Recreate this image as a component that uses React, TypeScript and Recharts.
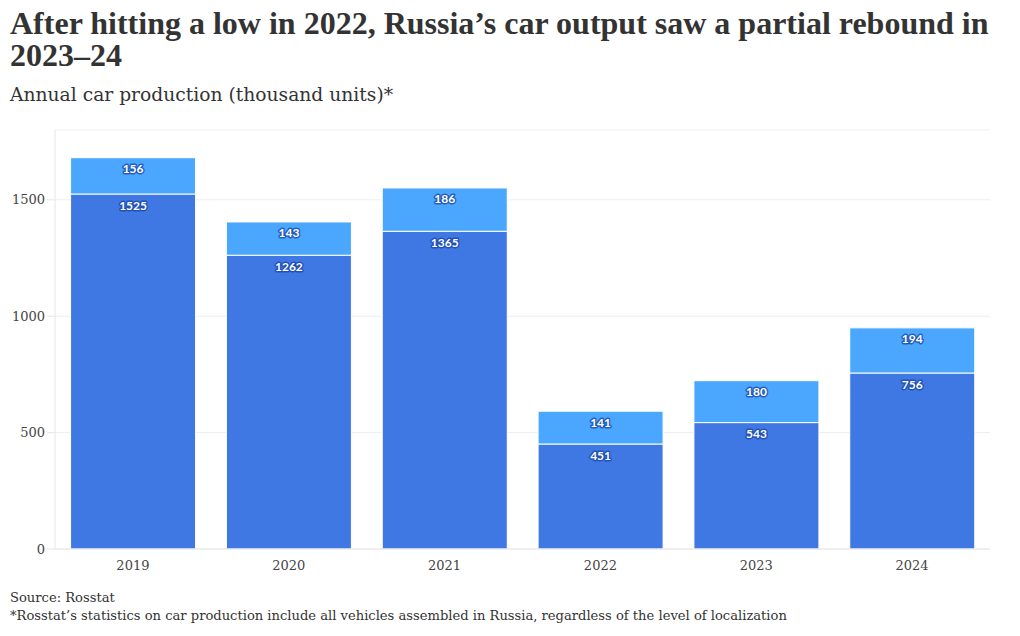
import { BarChart, Bar, XAxis, YAxis, CartesianGrid, LabelList } from "recharts";

const years = ["2019", "2020", "2021", "2022", "2023", "2024"];
const localized = [1525, 1262, 1365, 451, 543, 756];
const extra = [156, 143, 186, 141, 180, 194];
const yTicks = [0, 500, 1000, 1500];

const data = years.map((year, i) => ({ year, base: localized[i], top: extra[i] }));

const serif = "'DejaVu Serif', 'Liberation Serif', serif";

// white number with a soft blue halo, placed just inside the top of the segment
function SegLabel(props: any) {
  const { x, y, width, value } = props;
  return (
    <text
      x={x + width / 2}
      y={y + 11}
      textAnchor="middle"
      dominantBaseline="central"
      fontFamily="Lato, 'Noto Sans', sans-serif"
      fontWeight={700}
      fontSize={12}
      fill="#fff"
      stroke="rgba(25,70,170,0.75)"
      strokeWidth={3}
      strokeLinejoin="round"
      paintOrder="stroke"
    >
      {value}
    </text>
  );
}

export default function App() {
  return (
    <div
      style={{
        position: "absolute",
        left: 0,
        top: 0,
        width: 1020,
        height: 636,
        background: "#fff",
        fontFamily: serif,
        color: "#333",
      }}
    >
      <div
        style={{
          position: "absolute",
          left: 10,
          top: 7,
          width: 1000,
          fontSize: 32,
          fontWeight: 700,
          lineHeight: "32px",
          color: "#333",
          fontFamily: "'Liberation Serif', serif",
        }}
      >
        After hitting a low in 2022, Russia’s car output saw a partial rebound in 2023–24
      </div>
      <div
        style={{
          position: "absolute",
          left: 10,
          top: 84,
          fontSize: 18.7,
          color: "#333",
          fontFamily: serif,
        }}
      >
        Annual car production (thousand units)*
      </div>

      <div style={{ position: "absolute", left: 0, top: 0 }}>
        <BarChart
          width={1020}
          height={636}
          data={data}
          margin={{ top: 130, right: 30, bottom: 57, left: 0 }}
          barCategoryGap="10%"
        >
          <CartesianGrid vertical={false} stroke="#eeeeee" />
          <XAxis
            dataKey="year"
            axisLine={{ stroke: "#e6e6e6" }}
            tickLine={false}
            height={30}
            tick={{ fill: "#444", fontSize: 13, fontFamily: serif }}
            tickMargin={6}
          />
          <YAxis
            width={55}
            domain={[0, 1800]}
            ticks={yTicks}
            axisLine={{ stroke: "#e6e6e6" }}
            tickLine={{ stroke: "#e6e6e6" }}
            tickSize={8}
            tick={{ fill: "#444", fontSize: 13, fontFamily: serif }}
          />
          <Bar dataKey="base" stackId="a" fill="#3f78e3" stroke="#fff" strokeWidth={1} isAnimationActive={false}>
            <LabelList dataKey="base" content={<SegLabel />} />
          </Bar>
          <Bar dataKey="top" stackId="a" fill="#4aa7fd" stroke="#fff" strokeWidth={1} isAnimationActive={false}>
            <LabelList dataKey="top" content={<SegLabel />} />
          </Bar>
        </BarChart>
      </div>

      <div
        style={{
          position: "absolute",
          left: 10,
          top: 589,
          fontSize: 13.1,
          lineHeight: "18px",
          color: "#333",
          fontFamily: serif,
        }}
      >
        <div>Source: Rosstat</div>
        <div>
          *Rosstat’s statistics on car production include all vehicles assembled in Russia, regardless of the level of
          localization
        </div>
      </div>
    </div>
  );
}
